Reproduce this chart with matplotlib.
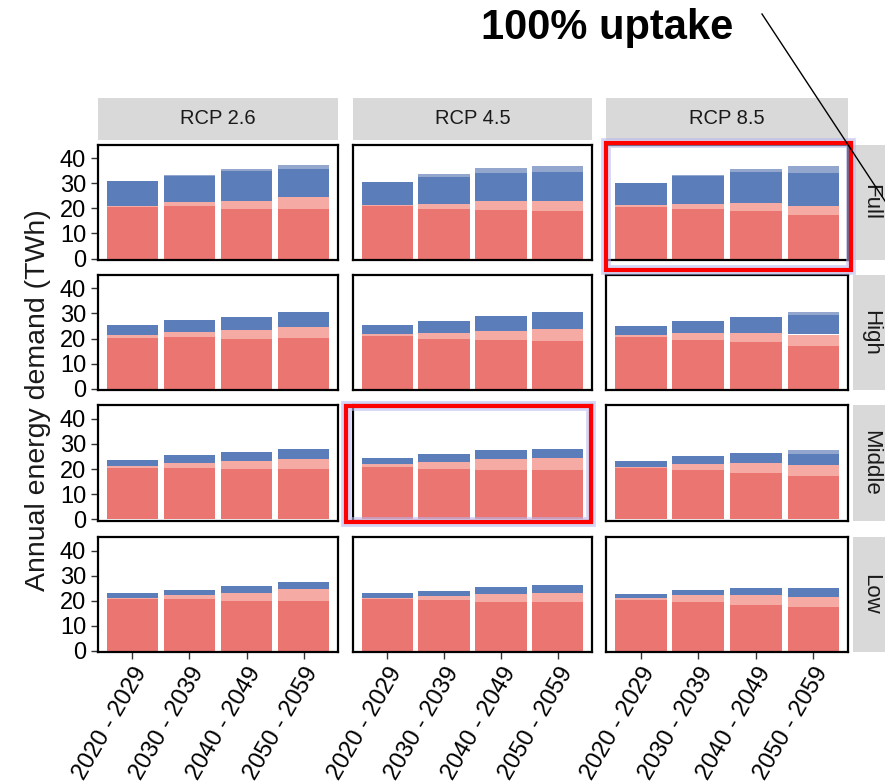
import matplotlib
matplotlib.use("Agg")
import matplotlib.pyplot as plt
from matplotlib.patches import Rectangle
from matplotlib.lines import Line2D
import numpy as np

plt.rcParams['font.family'] = ['Liberation Sans', 'DejaVu Sans']

periods = ["2020 - 2029", "2030 - 2039", "2040 - 2049", "2050 - 2059"]
rcps = ["RCP 2.6", "RCP 4.5", "RCP 8.5"]
uptakes = ["Full", "High", "Middle", "Low"]
y_ticks = [0, 10, 20, 30, 40]

# each array: rows = RCP 2.6 / 4.5 / 8.5, columns = periods
red_full = [[20.5, 21.0, 20.0, 20.0], [21.0, 20.0, 19.5, 19.0], [20.5, 19.8, 19.0, 17.3]]
pink_full = [[0.6, 1.5, 3.2, 4.5], [0.6, 2.0, 3.4, 4.2], [0.8, 2.2, 3.4, 3.9]]
blue_full = [[9.9, 10.5, 11.6, 11.3], [9.0, 10.6, 11.1, 11.3], [9.1, 10.8, 12.2, 12.8]]
light_full = [[0.0, 0.5, 0.8, 1.5], [0.0, 1.0, 2.0, 2.5], [0.0, 0.6, 1.1, 3.0]]

red_high = [[20.4, 20.5, 20.0, 20.4], [21.0, 20.0, 19.4, 19.0], [20.7, 19.5, 18.7, 17.0]]
pink_high = [[0.9, 2.2, 3.4, 4.1], [1.0, 2.4, 3.8, 4.7], [0.6, 2.8, 3.7, 4.6]]
blue_high = [[4.1, 4.7, 5.4, 5.9], [3.4, 4.8, 5.8, 6.8], [3.8, 4.7, 6.4, 7.8]]
light_high = [[0.0, 0.0, 0.0, 0.0], [0.0, 0.0, 0.0, 0.0], [0.0, 0.0, 0.0, 1.0]]

red_middle = [[20.5, 20.5, 20.0, 20.0], [21.0, 20.2, 19.8, 19.6], [20.5, 19.7, 18.5, 17.3]]
pink_middle = [[0.8, 2.0, 3.3, 4.0], [1.0, 2.6, 4.0, 4.6], [0.5, 2.5, 3.8, 4.5]]
blue_middle = [[2.2, 3.0, 3.5, 4.0], [2.5, 3.1, 3.7, 3.9], [2.2, 2.8, 4.0, 4.2]]
light_middle = [[0.0, 0.0, 0.0, 0.0], [0.0, 0.0, 0.0, 0.0], [0.0, 0.0, 0.0, 1.5]]

red_low = [[20.5, 20.5, 20.0, 20.0], [20.8, 20.2, 19.5, 19.3], [20.3, 19.6, 18.3, 17.4]]
pink_low = [[0.5, 1.7, 3.0, 4.5], [0.4, 1.8, 3.2, 3.8], [0.7, 2.8, 4.0, 4.0]]
blue_low = [[2.0, 2.1, 2.8, 2.8], [1.8, 2.0, 2.6, 3.2], [1.7, 2.0, 2.9, 3.7]]
light_low = [[0.0, 0.0, 0.0, 0.0], [0.0, 0.0, 0.0, 0.0], [0.0, 0.0, 0.0, 0.0]]

layers_by_row = [
    (red_full, pink_full, blue_full, light_full),
    (red_high, pink_high, blue_high, light_high),
    (red_middle, pink_middle, blue_middle, light_middle),
    (red_low, pink_low, blue_low, light_low),
]
layer_colors = ["#EB7570", "#F5ABA3", "#5B7DB9", "#93A7CE"]

W, H = 885, 784
fig = plt.figure(figsize=(W / 100, H / 100), dpi=100)

def fig_rect(x0, y0, x1, y1):
    return [x0 / W, 1 - y1 / H, (x1 - x0) / W, (y1 - y0) / H]

col_x = [(98, 338), (353, 592), (606, 848)]
row_y = [(145, 260), (275, 390), (405, 521), (537, 652)]
strip_col = "#D9D9D9"

x = np.arange(1, len(periods) + 1)
for r, (ry0, ry1) in enumerate(row_y):
    layers = layers_by_row[r]
    for c, (cx0, cx1) in enumerate(col_x):
        ax = fig.add_axes(fig_rect(cx0, ry0, cx1, ry1))
        bottom = np.zeros(len(periods))
        for lay, colr in zip(layers, layer_colors):
            vals = np.array(lay[c], dtype=float)
            ax.bar(x, vals, bottom=bottom, width=0.9, color=colr, linewidth=0)
            bottom = bottom + vals
        ax.set_xlim(0.4, 4.6)
        ax.set_ylim(-0.6, 45.4)
        ax.set_yticks(y_ticks)
        ax.set_xticks(x)
        for s in ax.spines.values():
            s.set_linewidth(1.6)
            s.set_color("black")
        ax.tick_params(length=5, width=1, color="#333333")
        if c == 0:
            ax.set_yticklabels([str(t) for t in y_ticks], fontsize=17)
        else:
            ax.tick_params(axis='y', left=False, labelleft=False)
        if r == len(row_y) - 1:
            ax.set_xticklabels(periods, rotation=60, ha='right', va='top',
                               rotation_mode='anchor', fontsize=17)
        else:
            ax.tick_params(axis='x', bottom=False, labelbottom=False)

# top strips
for c, (cx0, cx1) in enumerate(col_x):
    sax = fig.add_axes(fig_rect(cx0, 98, cx1, 140))
    sax.set_facecolor(strip_col)
    sax.set_xticks([]); sax.set_yticks([])
    for s in sax.spines.values():
        s.set_visible(False)
    sax.text(0.5, 0.5, rcps[c], ha='center', va='center', fontsize=14.5,
             transform=sax.transAxes, color="#1A1A1A")

# right strips
for r, (ry0, ry1) in enumerate(row_y):
    sax = fig.add_axes(fig_rect(853, ry0, 893, ry1))
    sax.set_facecolor(strip_col)
    sax.set_xticks([]); sax.set_yticks([])
    for s in sax.spines.values():
        s.set_visible(False)
    sax.text(0.45, 0.5, uptakes[r], ha='center', va='center', fontsize=16,
             rotation=-90, transform=sax.transAxes, color="#1A1A1A")

fig.text(38 / W, 1 - 400 / H, "Annual energy demand (TWh)", rotation=90,
         ha='center', va='center', fontsize=20.5, color="#1A1A1A")

# highlight boxes
for (bx0, by0, bx1, by1) in [(606, 143, 851, 270), (346, 406, 591, 522)]:
    glow = Rectangle((bx0 / W, 1 - by1 / H), (bx1 - bx0) / W, (by1 - by0) / H,
                     transform=fig.transFigure, fill=False, edgecolor="#B8B8F0",
                     linewidth=7, alpha=0.6)
    fig.add_artist(glow)
    box = Rectangle((bx0 / W, 1 - by1 / H), (bx1 - bx0) / W, (by1 - by0) / H,
                    transform=fig.transFigure, fill=False, edgecolor="#FF0000",
                    linewidth=3)
    fig.add_artist(box)

fig.text(607 / W, 1 - 28 / H, "100% uptake", ha='center', va='center',
         fontsize=30, fontweight='bold', color="black")
fig.add_artist(Line2D([762 / W, 885 / W], [1 - 14 / H, 1 - 201 / H],
                      transform=fig.transFigure, color="black", linewidth=1))

fig.savefig("out.png", dpi=100)
